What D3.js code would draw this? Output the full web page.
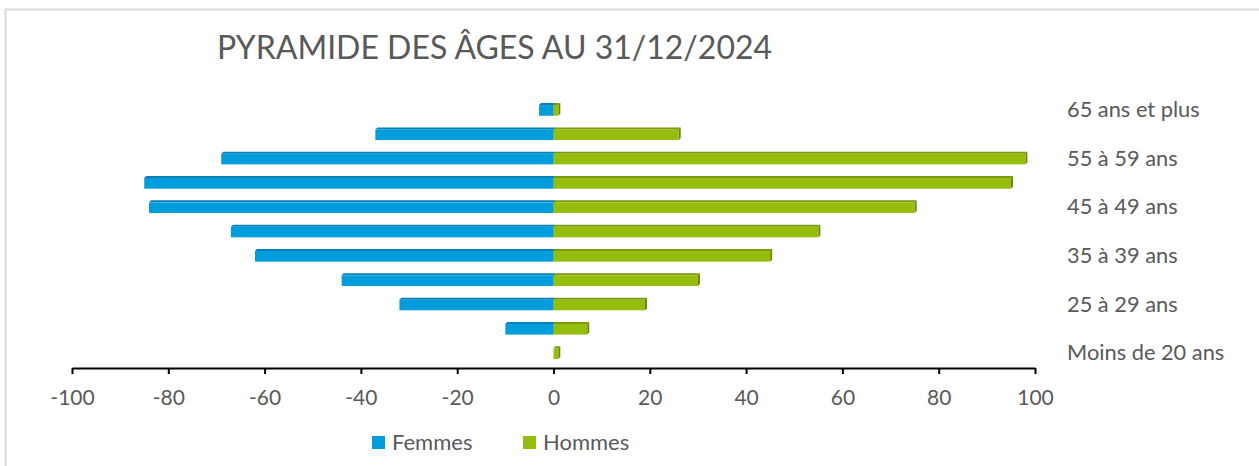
<!DOCTYPE html>
<html>
<head>
<meta charset="utf-8">
<script src="https://cdn.jsdelivr.net/npm/d3@7"></script>
<style>
  body { margin: 0; background: #fff; }
  svg text { font-family: Lato, "Open Sans", sans-serif; fill: #595959; }
</style>
</head>
<body>
<svg id="chart" width="1259" height="466"></svg>
<script>
    // tranches d'age, du bas vers le haut
    var categories = ["Moins de 20 ans", "20 à 24 ans", "25 à 29 ans", "30 à 34 ans", "35 à 39 ans",
        "40 à 44 ans", "45 à 49 ans", "50 à 54 ans", "55 à 59 ans", "60 à 64 ans", "65 ans et plus"];
    var femmes = [0, -10, -32, -44, -62, -67, -84, -85, -69, -37, -3];
    var hommes = [1, 7, 19, 30, 45, 55, 75, 95, 98, 26, 1];
    var xTicks = [-100, -80, -60, -40, -20, 0, 20, 40, 60, 80, 100];
    var seriesNames = ["Femmes", "Hommes"];

    var colors = {
        Femmes: {front: "#009ddc", top: "#0a7fb4", side: "#0a6f9e"},
        Hommes: {front: "#95bd0e", top: "#7a9a0c", side: "#6a8608"}
    };

    var svg = d3.select("#chart");
    var depth = 2;

    // cadre
    svg.append("rect")
        .attr("x", 5.5).attr("y", 9.5)
        .attr("width", 1270).attr("height", 470)
        .attr("fill", "none")
        .attr("stroke", "#d9d9d9")
        .attr("stroke-width", 2);

    svg.append("text")
        .attr("x", 217).attr("y", 59)
        .attr("font-size", 32)
        .text("PYRAMIDE DES ÂGES AU 31/12/2024");

    var xScale = d3.scaleLinear()
        .domain([-100, 100])
        .range([72, 1035]);

    var yScale = d3.scaleBand()
        .domain(categories.slice().reverse())
        .range([97, 365])
        .paddingInner(0.48)
        .paddingOuter(0.25);

    var xAxis = d3.axisBottom(xScale)
        .tickValues(xTicks)
        .tickFormat(function (d) { return String(d); })
        .tickSize(6)
        .tickSizeOuter(0)
        .tickPadding(16);

    var gx = svg.append("g")
        .attr("transform", "translate(0,368)")
        .call(xAxis);
    gx.select(".domain").attr("stroke", "#000").attr("stroke-width", 2);
    gx.selectAll(".tick line").attr("stroke", "#000").attr("stroke-width", 2);
    gx.selectAll(".tick text")
        .attr("font-size", 21)
        .attr("fill", "#595959")
        .attr("font-family", "Lato, sans-serif");

    var rows = categories.map(function (c, i) {
        return {cat: c, Femmes: femmes[i], Hommes: hommes[i]};
    });

    function drawSeries(name) {
        var g = svg.append("g");
        var col = colors[name];
        rows.forEach(function (d) {
            var v = d[name];
            if (v === 0) return;
            var x0 = xScale(Math.min(0, v));
            var x1 = xScale(Math.max(0, v));
            var y = yScale(d.cat) + depth;
            var h = yScale.bandwidth() - depth;
            // face superieure
            g.append("polygon")
                .attr("points", [[x0, y], [x0 + depth, y - depth], [x1 + depth, y - depth], [x1, y]].join(" "))
                .attr("fill", col.top);
            // face laterale
            g.append("polygon")
                .attr("points", [[x1, y], [x1 + depth, y - depth], [x1 + depth, y + h - depth], [x1, y + h]].join(" "))
                .attr("fill", col.side);
            g.append("rect")
                .attr("x", x0).attr("y", y)
                .attr("width", x1 - x0).attr("height", h)
                .attr("fill", col.front);
        });
    }
    drawSeries("Femmes");
    drawSeries("Hommes");

    // etiquettes a droite, une sur deux
    svg.append("g").selectAll("text")
        .data(categories.filter(function (c, i) { return i % 2 === 0; }))
        .enter().append("text")
        .attr("x", 1067)
        .attr("y", function (d) { return yScale(d) + yScale.bandwidth() / 2; })
        .attr("dy", "0.35em")
        .attr("font-size", 21.8)
        .text(function (d) { return d; });

    // legende
    var legX = [372, 523];
    var leg = svg.append("g").selectAll("g")
        .data(seriesNames)
        .enter().append("g")
        .attr("transform", function (d, i) { return "translate(" + legX[i] + ",436)"; });
    leg.append("rect")
        .attr("width", 13).attr("height", 13)
        .attr("fill", function (d) { return colors[d].front; });
    leg.append("text")
        .attr("x", 20).attr("y", 13.5)
        .attr("font-size", 22)
        .text(function (d) { return d; });
</script>
</body>
</html>
